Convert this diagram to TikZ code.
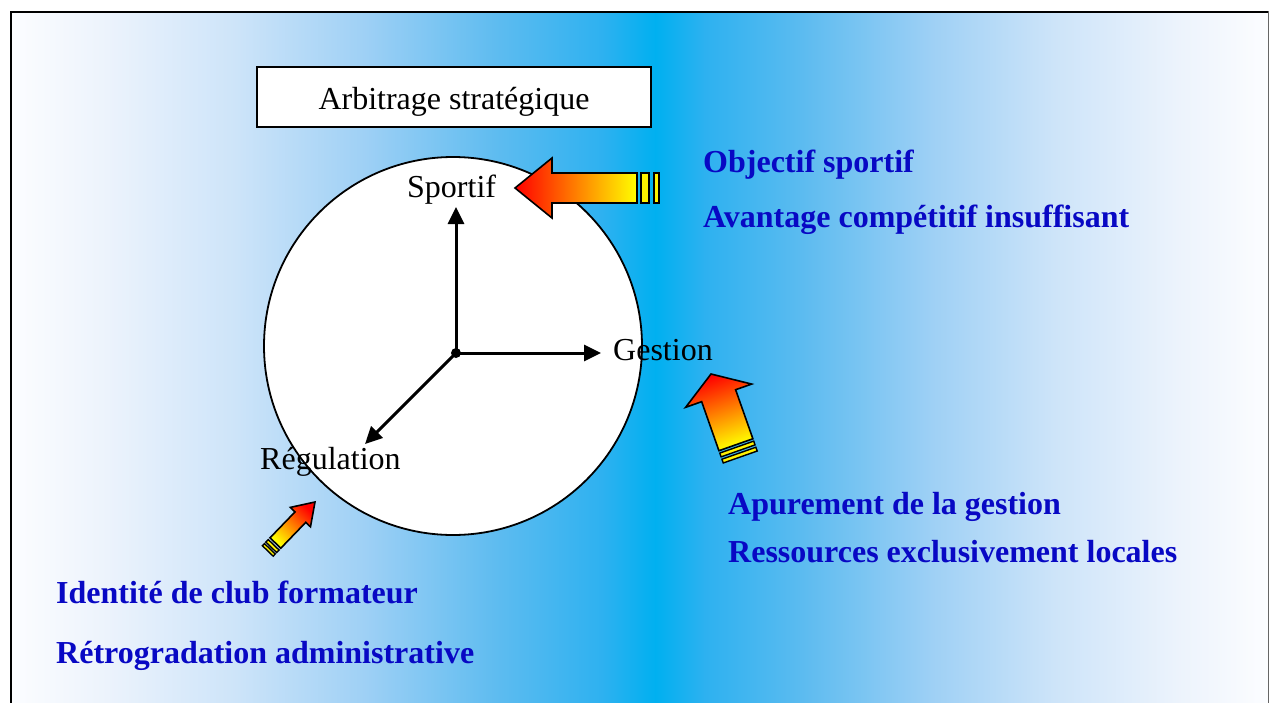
\documentclass[tikz,border=0pt]{standalone}
\usepackage{fontspec}
\setmainfont{Liberation Serif}
\usetikzlibrary{arrows.meta}
\definecolor{c0}{RGB}{0,176,240}
\definecolor{c1}{RGB}{45,177,240}
\definecolor{c2}{RGB}{95,188,240}
\definecolor{c3}{RGB}{158,208,245}
\definecolor{c4}{RGB}{205,228,249}
\definecolor{c5}{RGB}{236,243,252}
\definecolor{c6}{RGB}{252,253,255}
\definecolor{tblue}{RGB}{8,8,196}
\tikzset{
  lbl/.style={inner sep=0pt, font=\fontsize{32}{38}\selectfont},
  blbl/.style={lbl, text=tblue, font=\fontsize{32}{38}\selectfont\bfseries},
  axis/.style={line width=3pt, -{Triangle[length=17pt,width=16pt]}},
  fancyarrow/.style={draw=black, line width=1.6pt, line join=miter, top color=red, bottom color=yellow},
  stripe/.style={draw=black, line width=1.4pt, fill=yellow}
}
\begin{document}
\begin{tikzpicture}[x=1pt,y=-1pt]
\useasboundingbox (0,0) rectangle (1270,702);
\clip (0,0) rectangle (1270,702);
\fill[white] (0,0) rectangle (1270,702);
% background gradient
\shade[left color=c6,right color=c5] (10,11) rectangle (108,702);
\shade[left color=c5,right color=c4] (107,11) rectangle (237,702);
\shade[left color=c4,right color=c3] (236,11) rectangle (366,702);
\shade[left color=c3,right color=c2] (365,11) rectangle (495,702);
\shade[left color=c2,right color=c1] (494,11) rectangle (604,702);
\shade[left color=c1,right color=c0] (603,11) rectangle (656,702);
\shade[left color=c0,right color=c1] (655,11) rectangle (705,702);
\shade[left color=c1,right color=c2] (704,11) rectangle (809,702);
\shade[left color=c2,right color=c3] (808,11) rectangle (932,702);
\shade[left color=c3,right color=c4] (931,11) rectangle (1054,702);
\shade[left color=c4,right color=c5] (1053,11) rectangle (1177,702);
\shade[left color=c5,right color=c6] (1176,11) rectangle (1268,702);
% frame
\draw[line width=2pt] (10.5,720) -- (10.5,11.5) -- (1268,11.5);
\draw[black!60, line width=1.5pt] (1268.5,11) -- (1268.5,720);
% title box
\node[draw, line width=1.6pt, fill=white, minimum width=394pt, minimum height=60pt, inner sep=0pt] (arbbox) at (454,97) {};
\node[lbl, anchor=base] (arbtext) at (454,109) {Arbitrage stratégique};
% circle
\node[circle, draw, line width=1.8pt, fill=white, minimum size=378pt, inner sep=0pt] (wheel) at (453,346) {};
% axes
\coordinate (o) at (456,353);
\coordinate (up) at (456,207);
\coordinate (rt) at (601,353);
\coordinate (dl) at (365,444);
\draw[axis] (o) -- (up);
\draw[axis] (o) -- (rt);
\draw[axis] (o) -- (dl);
\fill (o) circle (5);
\node[lbl, anchor=base west] (sportif) at (407,197) {Sportif};
\node[lbl, anchor=base west] (gestion) at (613,360) {Gestion};
\node[lbl, anchor=base west] (regul) at (260,469) {Régulation};
% fancy arrow 1 (pointing left)
\begin{scope}[shift={(515,188)}]
  \shade[fancyarrow, shading angle=90] (0,0) -- (37,-30) -- (37,-15) -- (122,-15) -- (122,15) -- (37,15) -- (37,30) -- cycle;
  \draw[stripe] (126,-15) rectangle (134,15);
  \draw[stripe] (139,-15) rectangle (144,15);
\end{scope}
% fancy arrow 2 (pointing up)
\begin{scope}[shift={(711,374)}, rotate=-70.6]
  \shade[fancyarrow, shading angle=19.4] (0,0) -- (23,-35) -- (23,-18) -- (75,-18) -- (75,18) -- (23,18) -- (23,35) -- cycle;
  \draw[stripe] (77.5,-18) rectangle (81.5,18);
  \draw[stripe] (84,-18) rectangle (88,18);
\end{scope}
% fancy arrow 3 (pointing up-right)
\begin{scope}[shift={(315,502)}, rotate=-134]
  \shade[fancyarrow, shading angle=-44] (0,0) -- (21,-14) -- (21,-7.5) -- (57,-7.5) -- (57,7.5) -- (21,7.5) -- (21,14) -- cycle;
  \draw[stripe] (59.5,-7.5) rectangle (63,7.5);
  \draw[stripe] (65,-7.5) rectangle (68,7.5);
\end{scope}
% blue texts
\node[blbl, anchor=base west] (obj) at (703,172) {Objectif sportif};
\node[blbl, anchor=base west] (avant) at (703,227) {Avantage compétitif insuffisant};
\node[blbl, anchor=base west] (apur) at (728,514) {Apurement de la gestion};
\node[blbl, anchor=base west] (ress) at (728,562) {Ressources exclusivement locales};
\node[blbl, anchor=base west] (ident) at (56,603) {Identité de club formateur};
\node[blbl, anchor=base west] (retro) at (56,663) {Rétrogradation administrative};
\end{tikzpicture}
\end{document}
